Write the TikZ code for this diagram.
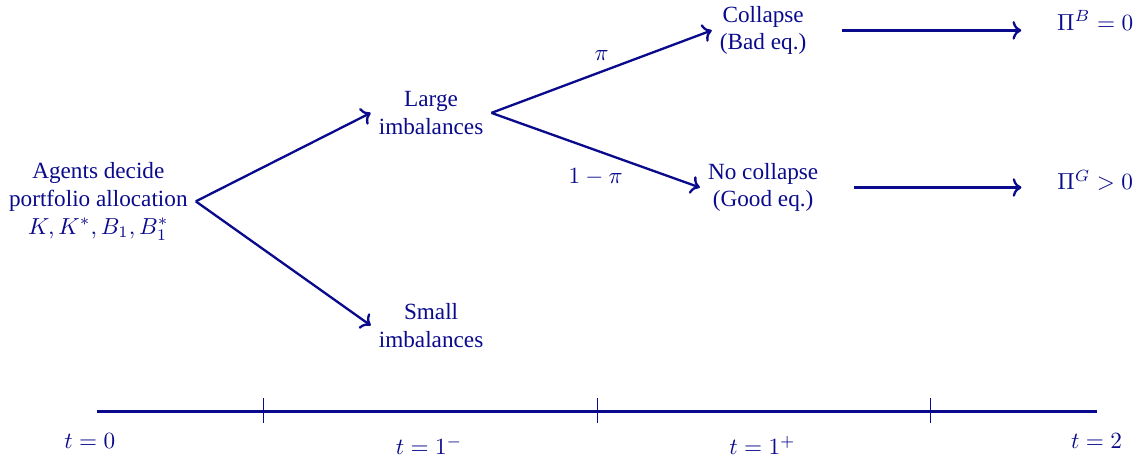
\documentclass[tikz,border=0pt]{standalone}
\usepackage{fontspec}
\setmainfont{Liberation Serif}
\usetikzlibrary{arrows.meta,positioning,calc}
\definecolor{treeblue}{RGB}{10,10,140}
\tikzset{
  stage/.style={align=center, text=treeblue, font=\normalsize},
  brancharr/.style={->, treeblue, line width=1pt},
  payarr/.style={->, treeblue, line width=1pt, shorten <=0.42cm, shorten >=0.42cm},
  probtxt/.style={text=treeblue, font=\normalsize},
  timeline/.style={treeblue, line width=1.4pt},
  timetick/.style={treeblue, thin},
}

\begin{document}
\begin{tikzpicture}
  \useasboundingbox (-1.47,-0.80) rectangle (15.89,6.23);
%---------------- decision tree ----------------
  \node[stage] (agents) at (0.02,3.18) {Agents decide\\ portfolio allocation\\ $K, K^*, B_1, B_1^*$};
  \node[stage] (large) at (5.06,4.52) {Large\\ imbalances};
  \node[stage] (small) at (5.06,1.30) {Small\\ imbalances};
  \node[stage] (bad) at (10.09,5.77) {Collapse\\ (Bad eq.)};
  \node[stage] (good) at (10.09,3.39) {No collapse\\ (Good eq.)};
  \node[stage] (payB) at (15.12,5.92) {$\Pi^B = 0$};
  \node[stage] (payG) at (15.12,3.50) {$\Pi^G > 0$};
  % branches
  \draw[brancharr] (agents.east) -- (large.west);
  \draw[brancharr] (agents.east) -- (small.west);
  \draw[brancharr] (large.east) -- node[probtxt, above=1pt] {$\pi$} (bad.west);
  \draw[brancharr] (large.east) -- node[probtxt, below=4pt] {$1-\pi$} (good.west);
  % payoffs
  \draw[payarr] (bad.east) -- (bad.east -| payB.west);
  \draw[payarr] (good.east) -- (good.east -| payG.west);
%---------------- time line ----------------
  \coordinate (tstart) at (0,0);
  \coordinate (tend) at (15.15,0);
  \draw[timeline] (tstart) -- (tend);
  \foreach \x in {2.52,7.58,12.62}
    \draw[timetick] (\x,0.20) -- (\x,-0.18);
  \node[probtxt] (t0) at (-0.11,-0.45) {$t=0$};
  \node[probtxt] (t1m) at (5.03,-0.52) {$t=1^-$};
  \node[probtxt] (t1p) at (10.08,-0.52) {$t=1^+$};
  \node[probtxt] (t2) at (15.14,-0.45) {$t=2$};
\end{tikzpicture}
\end{document}
